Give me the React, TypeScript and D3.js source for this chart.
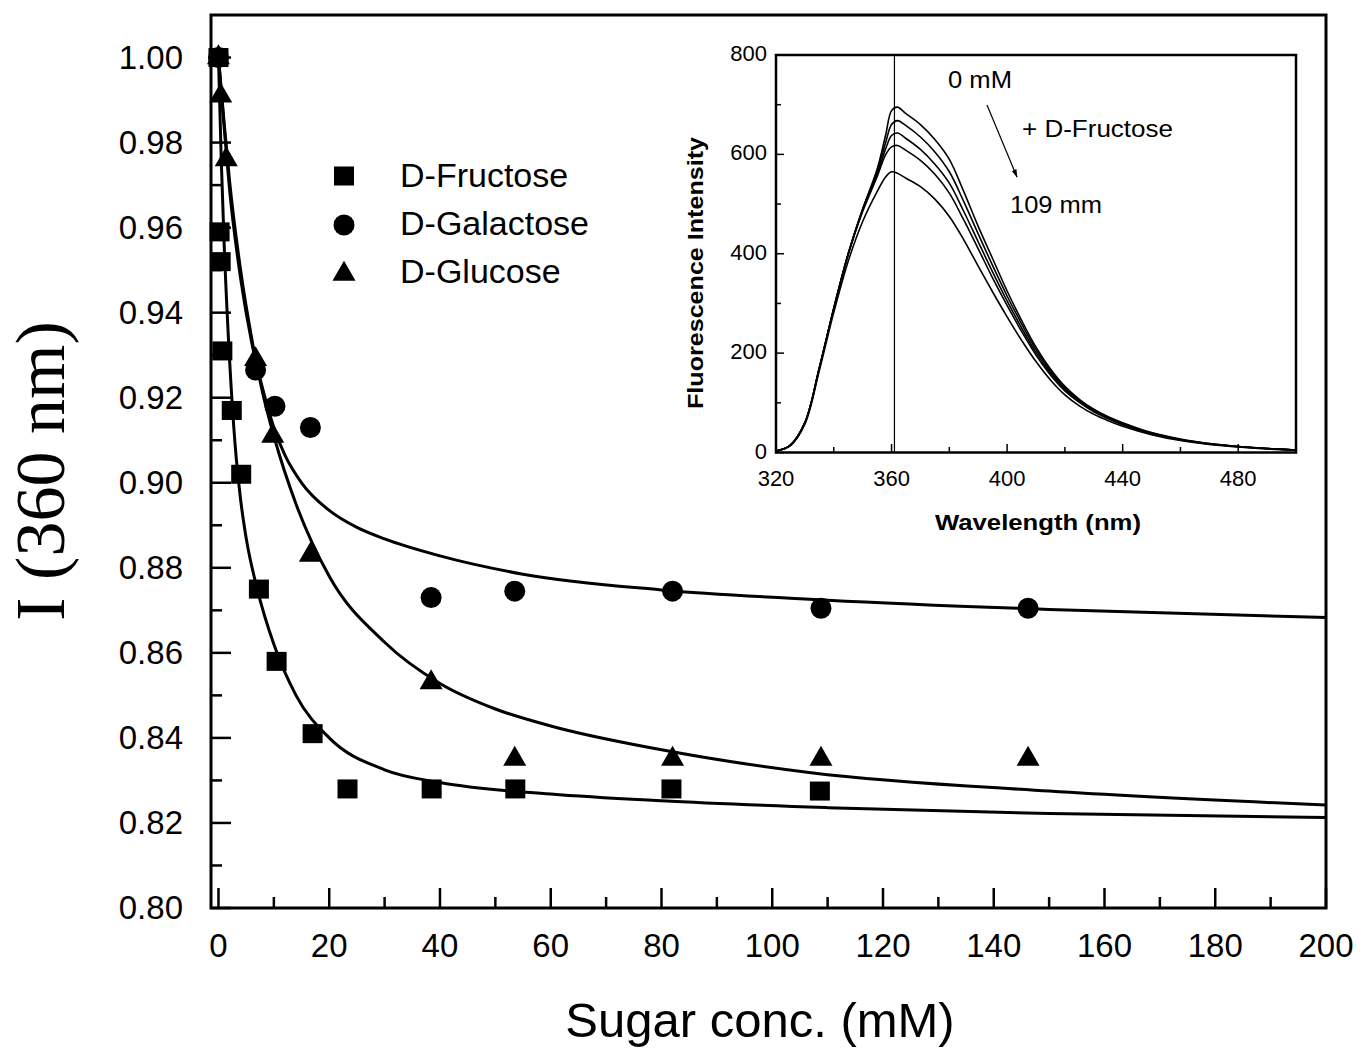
import React from "react";
import * as d3 from "d3";

// ---------- Main plot data ----------
const X_TICKS = [0, 20, 40, 60, 80, 100, 120, 140, 160, 180, 200];
const X_MINOR = [10, 30, 50, 70, 90, 110, 130, 150, 170, 190];
const Y_TICKS = ["0.80", "0.82", "0.84", "0.86", "0.88", "0.90", "0.92", "0.94", "0.96", "0.98", "1.00"];
const Y_MINOR = [0.81, 0.83, 0.85, 0.87, 0.89, 0.91, 0.93, 0.95, 0.97, 0.99];

const fructoseX = [0, 0.2, 0.4, 0.7, 2.4, 4.1, 7.3, 10.5, 17, 23.3, 38.5, 53.6, 81.8, 108.6];
const fructoseY = [1.0, 0.959, 0.952, 0.931, 0.917, 0.902, 0.875, 0.858, 0.841, 0.828, 0.828, 0.828, 0.828, 0.8275];

const galactoseX = [0, 6.7, 10.2, 16.6, 38.4, 53.5, 82, 108.8, 146.2];
const galactoseY = [1.0, 0.9265, 0.918, 0.913, 0.873, 0.8745, 0.8745, 0.8705, 0.8705];

const glucoseX = [0, 0.4, 1.4, 6.7, 9.8, 16.6, 38.4, 53.5, 82, 108.8, 146.2];
const glucoseY = [1.0, 0.991, 0.976, 0.929, 0.911, 0.883, 0.853, 0.835, 0.835, 0.835, 0.835];

// fitted curves
const fitFructoseX = [0, 0.5, 1, 2, 3, 4, 5, 7, 10, 14, 20, 30, 40, 60, 80, 110, 150, 200];
const fitFructoseY = [1.0, 0.976, 0.957, 0.929, 0.909, 0.896, 0.887, 0.875, 0.862, 0.850, 0.840, 0.8325, 0.8295, 0.8268, 0.8252, 0.8236, 0.8222, 0.8213];

const fitGlucoseX = [0, 1, 2, 4, 6, 8, 10, 14, 20, 30, 40, 50, 60, 80, 107, 150, 200];
const fitGlucoseY = [1.0, 0.985, 0.971, 0.950, 0.934, 0.921, 0.911, 0.895, 0.878, 0.8625, 0.8528, 0.8468, 0.8428, 0.8372, 0.8318, 0.8275, 0.8242];

const fitGalactoseX = [0, 1, 2, 4, 6, 8, 10, 12, 15, 20, 25, 30, 40, 55, 80, 110, 150, 200];
const fitGalactoseY = [1.0, 0.984, 0.969, 0.948, 0.933, 0.922, 0.913, 0.9065, 0.900, 0.8935, 0.8895, 0.8868, 0.8828, 0.8785, 0.8748, 0.8724, 0.8702, 0.8683];

// ---------- Inset data ----------
const IN_X_TICKS = [320, 360, 400, 440, 480];
const IN_X_MINOR = [340, 380, 420, 460, 500];
const IN_Y_TICKS = [0, 200, 400, 600, 800];
const IN_Y_MINOR = [100, 300, 500, 700];

const wavelengths = [320, 325, 330, 335, 340, 345, 350, 355, 358, 360, 362, 365, 370, 375, 380, 385, 390, 395, 400, 405, 410, 415, 420, 425, 430, 435, 440, 450, 460, 470, 480, 490, 500];
const spec0 = [3, 15, 60, 170, 290, 400, 490, 570, 640, 688, 695, 682, 660, 630, 590, 525, 455, 390, 325, 266, 212, 168, 133, 107, 87, 72, 60, 40, 27, 18, 12, 8, 5];
const spec1 = [3, 15, 60, 170, 290, 400, 490, 565, 625, 660, 668, 658, 635, 605, 565, 505, 440, 376, 315, 259, 207, 164, 130, 105, 85, 70, 58, 39, 26, 18, 12, 8, 5];
const spec2 = [3, 15, 60, 170, 290, 400, 488, 560, 612, 638, 643, 632, 610, 580, 542, 485, 424, 363, 305, 251, 201, 160, 127, 103, 84, 69, 57, 38, 26, 17, 12, 8, 5];
const spec3 = [3, 15, 60, 170, 290, 398, 485, 555, 600, 615, 618, 608, 588, 560, 522, 468, 410, 351, 296, 244, 196, 156, 124, 101, 82, 68, 56, 38, 25, 17, 12, 8, 5];
const spec4 = [3, 14, 57, 165, 282, 385, 465, 525, 555, 565, 562, 552, 535, 510, 475, 428, 375, 323, 273, 226, 183, 146, 116, 94, 77, 64, 53, 36, 24, 16, 11, 7, 5];
const spectra = [spec0, spec1, spec2, spec3, spec4];

const SANS = "'Liberation Sans', Arial, Helvetica, sans-serif";
const SERIF = "'Liberation Serif', 'Times New Roman', serif";

export default function App() {
  const W = 1363, H = 1048;
  const x = d3.scaleLinear().domain([-1.35, 200]).range([211, 1326]);
  const y = d3.scaleLinear().domain([0.8, 1.01]).range([908, 15]);
  const xi = d3.scaleLinear().domain([320, 500]).range([776, 1296]);
  const yi = d3.scaleLinear().domain([0, 800]).range([452.5, 55]);

  const fitLine = d3.line<[number, number]>()
    .x((d) => x(d[0]))
    .y((d) => y(d[1]))
    .curve(d3.curveMonotoneX);
  const specLine = d3.line<[number, number]>()
    .x((d) => xi(d[0]))
    .y((d) => yi(d[1]))
    .curve(d3.curveCatmullRom);

  const zip = (a: number[], b: number[]) => a.map((v, i) => [v, b[i]] as [number, number]);
  const fits = [zip(fitFructoseX, fitFructoseY), zip(fitGlucoseX, fitGlucoseY), zip(fitGalactoseX, fitGalactoseY)];

  const tri = d3.symbol(d3.symbolTriangle, 230)() as string;

  const Square = ({ cx, cy }: { cx: number; cy: number }) => (
    <rect x={cx - 10} y={cy - 9.5} width={20} height={19} fill="#000" />
  );

  return (
    <svg width={W} height={H} style={{ position: "absolute", left: 0, top: 0, background: "#fff" }}>
      <rect x={0} y={0} width={W} height={H} fill="#fff" />

      {/* fit curves */}
      {fits.map((f, i) => (
        <path key={i} d={fitLine(f) as string} fill="none" stroke="#000" strokeWidth={3} />
      ))}

      {/* markers */}
      {fructoseX.map((v, i) => (
        <Square key={"f" + i} cx={x(v)} cy={y(fructoseY[i])} />
      ))}
      {galactoseX.map((v, i) => (
        <circle key={"g" + i} cx={x(v)} cy={y(galactoseY[i])} r={10.5} fill="#000" />
      ))}
      {glucoseX.map((v, i) => (
        <path key={"u" + i} d={tri} transform={`translate(${x(v)},${y(glucoseY[i])})`} fill="#000" />
      ))}

      {/* main frame */}
      <rect x={211} y={15} width={1326 - 211} height={908 - 15} fill="none" stroke="#000" strokeWidth={3} />

      {/* x ticks */}
      {X_TICKS.map((v) => (
        <g key={"xt" + v}>
          <line x1={x(v)} x2={x(v)} y1={908} y2={888} stroke="#000" strokeWidth={2.5} />
          <text x={x(v)} y={957} textAnchor="middle" fontFamily={SANS} fontSize={33}>{v}</text>
        </g>
      ))}
      {X_MINOR.map((v) => (
        <line key={"xm" + v} x1={x(v)} x2={x(v)} y1={908} y2={897} stroke="#000" strokeWidth={2.5} />
      ))}
      {/* y ticks */}
      {Y_TICKS.map((s) => {
        const v = +s;
        return (
          <g key={"yt" + s}>
            <line x1={211} x2={231} y1={y(v)} y2={y(v)} stroke="#000" strokeWidth={2.5} />
            <text x={183} y={y(v) + 11} textAnchor="end" fontFamily={SANS} fontSize={33}>{s}</text>
          </g>
        );
      })}
      {Y_MINOR.map((v) => (
        <line key={"ym" + v} x1={211} x2={222} y1={y(v)} y2={y(v)} stroke="#000" strokeWidth={2.5} />
      ))}

      {/* axis titles */}
      <text x={760} y={1037} textAnchor="middle" fontFamily={SANS} fontSize={49}>Sugar conc. (mM)</text>
      <text transform="translate(64,471) rotate(-90)" textAnchor="middle" fontFamily={SERIF} fontSize={70}>I (360 nm)</text>

      {/* legend */}
      <Square cx={344} cy={176} />
      <circle cx={344} cy={225} r={10.5} fill="#000" />
      <path d={tri} transform="translate(344,274)" fill="#000" />
      <text x={400} y={187} fontFamily={SANS} fontSize={34}>D-Fructose</text>
      <text x={400} y={235} fontFamily={SANS} fontSize={34}>D-Galactose</text>
      <text x={400} y={283} fontFamily={SANS} fontSize={34}>D-Glucose</text>

      {/* ---------- inset ---------- */}
      <rect x={776} y={55} width={1296 - 776} height={452.5 - 55} fill="#fff" />
      {spectra.map((s, i) => (
        <path key={"s" + i} d={specLine(zip(wavelengths, s)) as string} fill="none" stroke="#000" strokeWidth={1.6} />
      ))}
      <line x1={xi(361)} x2={xi(361)} y1={55} y2={452.5} stroke="#000" strokeWidth={1.2} />
      <rect x={776} y={55} width={1296 - 776} height={452.5 - 55} fill="none" stroke="#000" strokeWidth={2.5} />

      {IN_X_TICKS.map((v) => (
        <g key={"ixt" + v}>
          <line x1={xi(v)} x2={xi(v)} y1={452.5} y2={444} stroke="#000" strokeWidth={1.5} />
          <text x={xi(v)} y={486} textAnchor="middle" fontFamily={SANS} fontSize={22}>{v}</text>
        </g>
      ))}
      {IN_X_MINOR.map((v) => (
        <line key={"ixm" + v} x1={xi(v)} x2={xi(v)} y1={452.5} y2={447} stroke="#000" strokeWidth={1.5} />
      ))}
      {IN_Y_TICKS.map((v) => (
        <g key={"iyt" + v}>
          <line x1={776} x2={784} y1={yi(v)} y2={yi(v)} stroke="#000" strokeWidth={1.5} />
          <text x={767} y={yi(v) + 6} textAnchor="end" fontFamily={SANS} fontSize={22}>{v}</text>
        </g>
      ))}
      {IN_Y_MINOR.map((v) => (
        <line key={"iym" + v} x1={776} x2={781} y1={yi(v)} y2={yi(v)} stroke="#000" strokeWidth={1.5} />
      ))}

      <text x={1038} y={530} textAnchor="middle" fontFamily={SANS} fontWeight="bold" fontSize={22}
        textLength={206} lengthAdjust="spacingAndGlyphs">Wavelength (nm)</text>
      <text transform="translate(703,273) rotate(-90)" textAnchor="middle" fontFamily={SANS} fontWeight="bold" fontSize={22}
        textLength={272} lengthAdjust="spacingAndGlyphs">Fluorescence Intensity</text>

      <text x={948} y={88} fontFamily={SANS} fontSize={24} textLength={64} lengthAdjust="spacingAndGlyphs">0 mM</text>
      <text x={1022} y={137} fontFamily={SANS} fontSize={24} textLength={151} lengthAdjust="spacingAndGlyphs">+ D-Fructose</text>
      <text x={1010} y={213} fontFamily={SANS} fontSize={24} textLength={92} lengthAdjust="spacingAndGlyphs">109 mm</text>

      <defs>
        <marker id="arr" viewBox="0 0 10 10" refX={9} refY={5} markerWidth={7} markerHeight={7} orient="auto">
          <path d="M0,2 L10,5 L0,8 Z" fill="#000" />
        </marker>
      </defs>
      <line x1={987} y1={105} x2={1017} y2={177} stroke="#000" strokeWidth={1.2} markerEnd="url(#arr)" />
    </svg>
  );
}
